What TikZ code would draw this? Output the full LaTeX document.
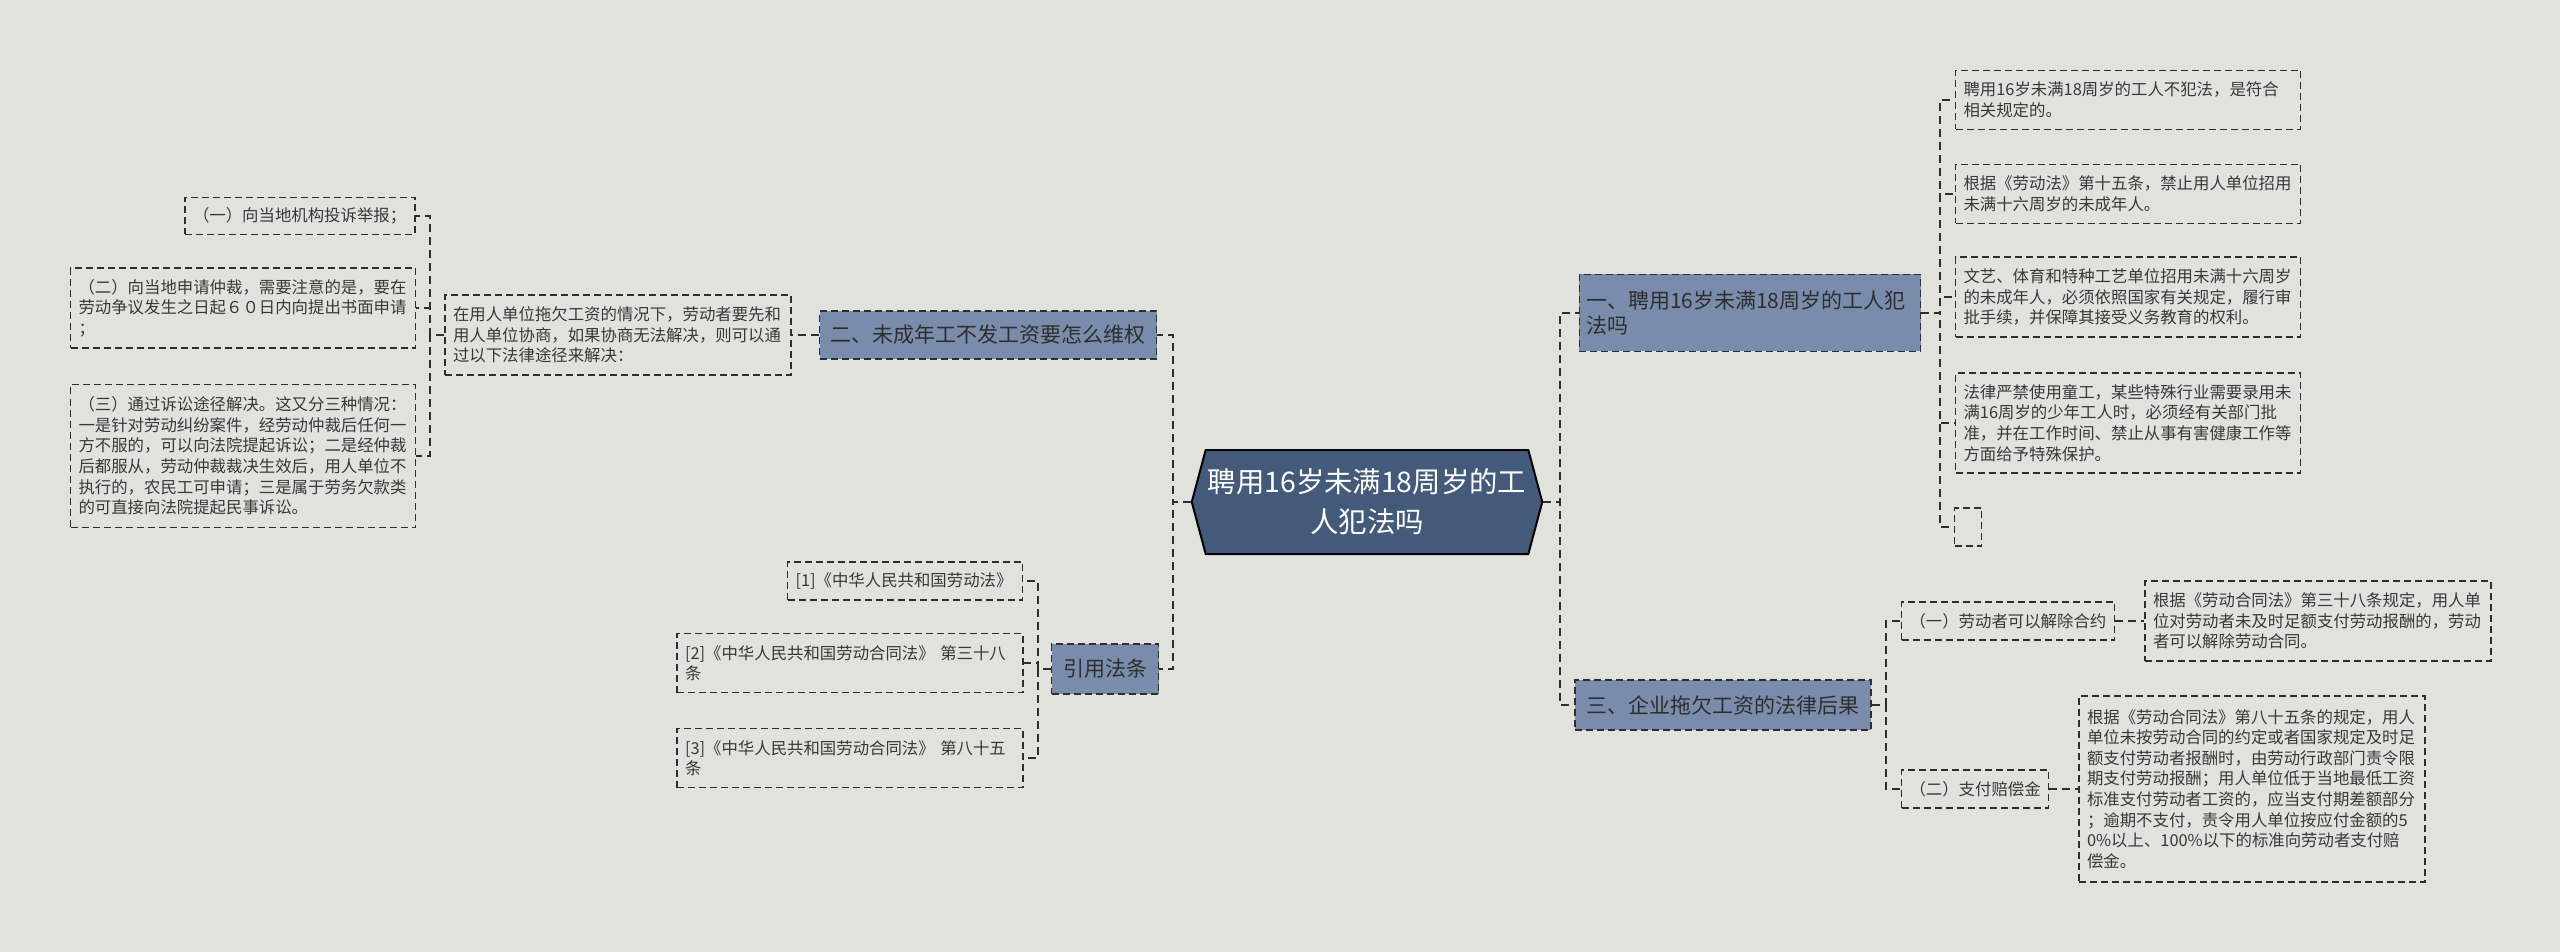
\documentclass[tikz,border=0pt]{standalone}
\usepackage{fontspec}
\setmainfont{Noto Sans CJK SC}
\usetikzlibrary{positioning,shapes.symbols}
\definecolor{bgcol}{HTML}{E2E2DD}
\definecolor{topiccol}{HTML}{435A7A}
\definecolor{branchcol}{HTML}{7A8CAB}
\definecolor{linecol}{HTML}{2E2E2E}
\tikzset{
    link/.style={draw=linecol,line width=1pt,dash pattern=on 4pt off 2.5pt},
    topic/.style={signal,signal to=west and east,signal pointer angle=150,fill=topiccol,draw=black,line width=1pt,
        text=white,align=center,inner xsep=1pt,font=\fontsize{14.2}{20}\selectfont},
    branch/.style={fill=branchcol,draw=linecol,line width=0.8pt,dash pattern=on 3.5pt off 2pt,
        text=black!82,align=left,font=\fontsize{10.5}{12.5}\selectfont},
    leaf/.style={draw=linecol,line width=0.75pt,dash pattern=on 3.5pt off 2pt,text=black!78,
        align=left,inner xsep=4pt,text width=#1,font=\fontsize{8.2}{10.3}\selectfont}
}

\begin{document}
\begin{tikzpicture}[x=0.5pt,y=-0.5pt]

    \fill[bgcol] (0,0) rectangle (2560,952);

    % centre
    \node[topic,minimum width=170pt,minimum height=52pt] (topic) at (1367,502)
        {聘用16岁未满18周岁的工\\人犯法吗};

    % left: wages
    \node[branch,minimum width=168.5pt,minimum height=24pt] (wage) at (988,335) {二、未成年工不发工资要怎么维权};
    \node[leaf=165pt,minimum height=40pt] (wage intro) at (618,335)
        {在用人单位拖欠工资的情况下，劳动者要先和\\用人单位协商，如果协商无法解决，则可以通\\过以下法律途径来解决：};
    \node[leaf=107pt,minimum height=18.5pt] (wage a) at (300,216) {（一）向当地机构投诉举报；};
    \node[leaf=164.5pt,minimum height=40pt] (wage b) at (243,308)
        {（二）向当地申请仲裁，需要注意的是，要在\\劳动争议发生之日起６０日内向提出书面申请\\；};
    \node[leaf=164.5pt,minimum height=71.5pt] (wage c) at (243,456)
        {（三）通过诉讼途径解决。这又分三种情况：\\一是针对劳动纠纷案件，经劳动仲裁后任何一\\方不服的，可以向法院提起诉讼；二是经仲裁\\后都服从，劳动仲裁裁决生效后，用人单位不\\执行的，农民工可申请；三是属于劳务欠款类\\的可直接向法院提起民事诉讼。};

    % left: cited laws
    \node[branch,minimum width=53.5pt,minimum height=25pt] (cite) at (1105,669) {引用法条};
    \node[leaf=109.5pt,minimum height=19pt] (cite a) at (905,581) {[1]《中华人民共和国劳动法》};
    \node[leaf=165pt,minimum height=29.5pt] (cite b) at (850,663) {[2]《中华人民共和国劳动合同法》 第三十八\\条};
    \node[leaf=165pt,minimum height=29.5pt] (cite c) at (850,758) {[3]《中华人民共和国劳动合同法》 第八十五\\条};

    % right: legality
    \node[branch,text width=164pt,minimum height=38.5pt] (legal) at (1750,313)
        {一、聘用16岁未满18周岁的工人犯\\法吗};
    \node[leaf=164.5pt,minimum height=29.5pt] (legal a) at (2128,100)
        {聘用16岁未满18周岁的工人不犯法，是符合\\相关规定的。};
    \node[leaf=164.5pt,minimum height=29.5pt] (legal b) at (2128,194)
        {根据《劳动法》第十五条，禁止用人单位招用\\未满十六周岁的未成年人。};
    \node[leaf=164.5pt,minimum height=40pt] (legal c) at (2128,297)
        {文艺、体育和特种工艺单位招用未满十六周岁\\的未成年人，必须依照国家有关规定，履行审\\批手续，并保障其接受义务教育的权利。};
    \node[leaf=164.5pt,minimum height=50pt] (legal d) at (2128,423)
        {法律严禁使用童工，某些特殊行业需要录用未\\满16周岁的少年工人时，必须经有关部门批\\准，并在工作时间、禁止从事有害健康工作等\\方面给予特殊保护。};
    \node[leaf=0pt,inner sep=0pt,minimum width=13.5pt,minimum height=19pt] (legal e) at (1968,527) {};

    % right: consequences
    \node[branch,minimum width=148pt,minimum height=25pt] (result) at (1723,705) {三、企业拖欠工资的法律后果};
    \node[leaf=98.5pt,minimum height=19pt] (result a) at (2008,621) {（一）劳动者可以解除合约};
    \node[leaf=165pt,minimum height=40pt] (result a text) at (2318,621)
        {根据《劳动合同法》第三十八条规定，用人单\\位对劳动者未及时足额支付劳动报酬的，劳动\\者可以解除劳动合同。};
    \node[leaf=65.5pt,minimum height=19pt] (result b) at (1975,789) {（二）支付赔偿金};
    \node[leaf=165pt,minimum height=93pt] (result b text) at (2252,789)
        {根据《劳动合同法》第八十五条的规定，用人\\单位未按劳动合同的约定或者国家规定及时足\\额支付劳动者报酬时，由劳动行政部门责令限\\期支付劳动报酬；用人单位低于当地最低工资\\标准支付劳动者工资的，应当支付期差额部分\\；逾期不支付，责令用人单位按应付金额的5\\0\%以上、100\%以下的标准向劳动者支付赔\\偿金。};

    % joints
    \coordinate (left joint) at (1173,502);
    \coordinate (right joint) at (1560,502);
    \coordinate (wage joint) at (430,335);
    \coordinate (cite joint) at (1038,669);
    \coordinate (legal joint) at (1940,313);
    \coordinate (result joint) at (1886,705);

    \draw[link] (topic.west) -- (left joint) |- (wage.east);
    \draw[link] (topic.west) -- (left joint) |- (cite.east);
    \draw[link] (topic.east) -- (right joint) |- (legal.west);
    \draw[link] (topic.east) -- (right joint) |- (result.west);

    \draw[link] (wage.west) -- (wage intro.east);
    \draw[link] (wage intro.west) -- (wage joint) |- (wage a.east);
    \draw[link] (wage intro.west) -- (wage joint) |- (wage b.east);
    \draw[link] (wage intro.west) -- (wage joint) |- (wage c.east);

    \draw[link] (cite.west) -- (cite joint) |- (cite a.east);
    \draw[link] (cite.west) -- (cite joint) |- (cite b.east);
    \draw[link] (cite.west) -- (cite joint) |- (cite c.east);

    \draw[link] (legal.east) -- (legal joint) |- (legal a.west);
    \draw[link] (legal.east) -- (legal joint) |- (legal b.west);
    \draw[link] (legal.east) -- (legal joint) |- (legal c.west);
    \draw[link] (legal.east) -- (legal joint) |- (legal d.west);
    \draw[link] (legal.east) -- (legal joint) |- (legal e.west);

    \draw[link] (result.east) -- (result joint) |- (result a.west);
    \draw[link] (result.east) -- (result joint) |- (result b.west);
    \draw[link] (result a.east) -- (result a text.west);
    \draw[link] (result b.east) -- (result b text.west);

\end{tikzpicture}
\end{document}
